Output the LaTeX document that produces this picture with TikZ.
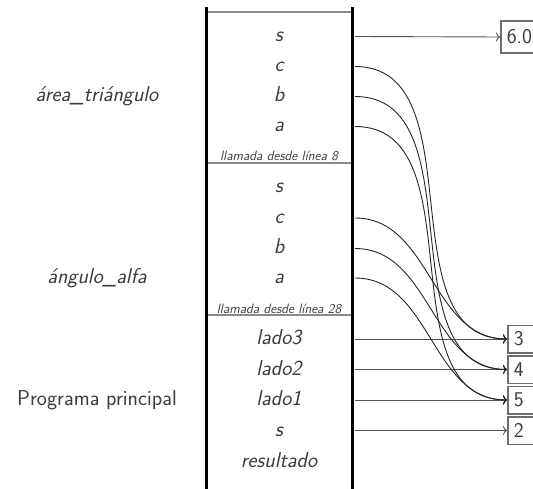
\documentclass[tikz,border=0pt]{standalone}
\usepackage{fontspec}
\usepackage{tikz}
\usetikzlibrary{arrows.meta,positioning}
\definecolor{txt}{HTML}{3C3C3C}
\definecolor{cellgray}{HTML}{6E6E6E}
\definecolor{rulegray}{HTML}{8A8A8A}
\definecolor{ptrgray}{HTML}{555555}

\begin{document}
\begin{tikzpicture}[x=1pt,y=-1pt,
    var/.style={font=\fontsize{21.5}{25}\selectfont\sffamily\itshape,text=txt,anchor=base,inner sep=0pt},
    fn/.style={var},
    call/.style={font=\fontsize{13.5}{16}\selectfont\sffamily\itshape,text=txt,anchor=base,inner sep=0pt},
    cell/.style={draw=cellgray,line width=1.5pt,anchor=west,minimum height=27.5pt,text width=40pt,
      align=left,inner xsep=6pt,font=\fontsize{21}{24}\selectfont\sffamily,text=txt},
    ptr/.style={-{To[length=4pt,width=9pt]},line width=0.9pt,draw=ptrgray},
    link/.style={-{To[length=4pt,width=9pt]},line width=0.9pt,draw=black!85}]
  \useasboundingbox (0,0) rectangle (533,489);
  \clip (0,0) rectangle (533,489);
  % frame separators
  \draw[rulegray,line width=1.5pt] (206,12) -- (352,12);
  \draw[rulegray,line width=2pt] (206,163) -- (352,163);
  \draw[rulegray,line width=2pt] (206,315) -- (352,315);
  % stack walls
  \draw[line width=3pt] (206,7) -- (206,495);
  \draw[line width=3pt] (352,7) -- (352,495);
  % variables: name/row/text
  \foreach \n/\y/\t in {tri-s/36.5/s, tri-c/66.5/c, tri-b/96.5/b, tri-a/126.5/a,
      alf-s/187.5/s, alf-c/218/c, alf-b/248.5/b, alf-a/278/a,
      main-l3/339/lado3, main-l2/369.5/lado2, main-l1/400/lado1, main-s/430.5/s,
      main-r/461.5/resultado}{
    \node[var] (\n) at (279,\y+5.5) {\t};
    \coordinate (\n-out) at (355,\y);
  }
  \node[call] (call8) at (279,161) {llamada desde línea 8};
  \node[call] (call28) at (279,313) {llamada desde línea 28};
  % frame names
  \node[fn] (f-tri) at (97,102) {área\_triángulo};
  \node[fn] (f-alf) at (97,283.5) {ángulo\_alfa};
  \node[fn,font=\fontsize{21.5}{25}\selectfont\sffamily] (f-main) at (97,405.5) {Programa principal};
  % values
  \node[cell,minimum height=32pt] (v6) at (500,37) {6.0};
  \foreach \n/\y/\t in {v3/339/3, v4/369.5/4, v5/400/5, v2/430.5/2}
    \node[cell] (\n) at (507,\y) {\t};
  % pointers
  \draw[ptr] (tri-s-out) -- (v6.west);
  \foreach \a/\b in {main-l3/v3, main-l2/v4, main-l1/v5, main-s/v2}
    \draw[ptr] (\a-out) -- (\b.west);
  \foreach \a/\b in {tri-c/v3, tri-b/v4, tri-a/v5, alf-c/v3, alf-b/v4, alf-a/v5}
    \draw[link] (\a-out) to[out=0,in=180] (\b.west);
\end{tikzpicture}
\end{document}
